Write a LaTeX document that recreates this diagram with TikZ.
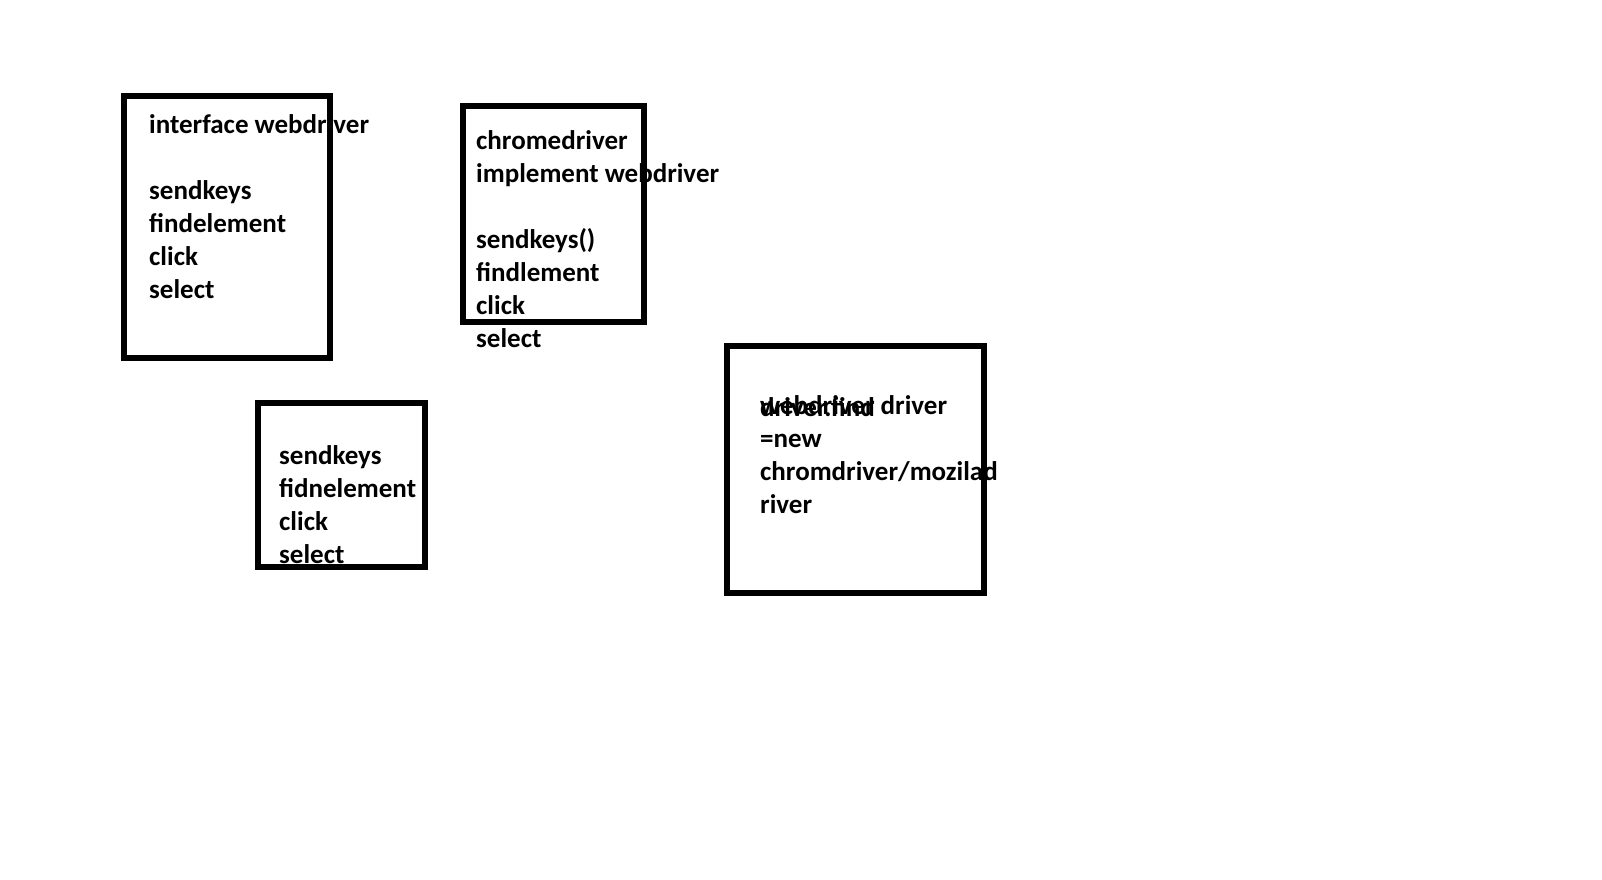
\documentclass[tikz,border=0pt]{standalone}
\usepackage{fontspec}
\setmainfont{Carlito}
\usetikzlibrary{positioning}

\begin{document}
\begin{tikzpicture}[x=1pt, y=-1pt,
    note/.style={anchor=base west, inner sep=0pt, align=left,
                 font=\fontsize{27}{33}\selectfont\bfseries},
    frame/.style={line width=5.5pt}]
            \useasboundingbox (0,0) rectangle (1602,879);

            % Texts (placed at the baseline of their last line)
            \node[note] (iface) at (149,298) {interface webdriver\\ \\sendkeys\\findelement\\click\\select};
            \node[note] (chrome) at (476,347) {chromedriver\\implement webdriver\\ \\sendkeys()\\findlement\\click\\select};
            \node[note] (methods) at (279,563) {sendkeys\\fidnelement\\click\\select};
            \node[note] (usage) at (760,513) {webdriver driver\\=new\\chromdriver/mozilad\\river};
            \node[note] (find) at (760,416) {driver.find};

            % Boxes
            \draw[frame] (124,96) rectangle (330,358);
            \draw[frame] (463,106) rectangle (644,322);
            \draw[frame] (258,403) rectangle (425,567);
            \draw[frame] (727,346) rectangle (984,593);

        \end{tikzpicture}
\end{document}
